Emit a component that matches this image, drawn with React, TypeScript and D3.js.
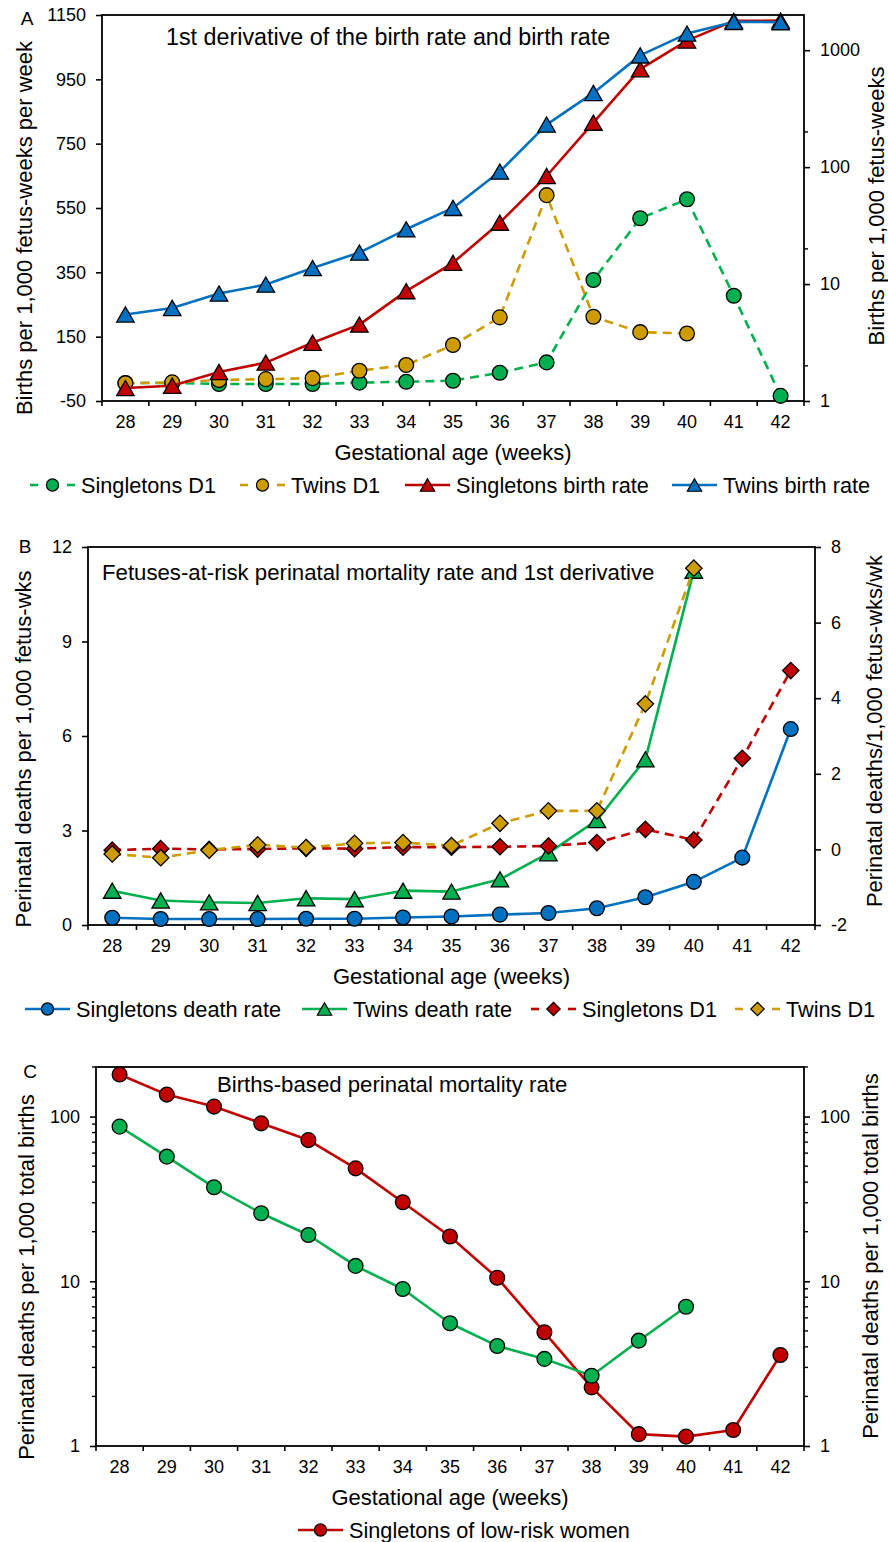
import React, { useEffect, useRef } from 'react';
import * as d3 from 'd3';

const FONT = '"Liberation Sans", Arial, Helvetica, sans-serif';

const weeks = [28, 29, 30, 31, 32, 33, 34, 35, 36, 37, 38, 39, 40, 41, 42];

// Panel A: 1st derivative (left axis) and birth rate (right, log axis)
const singletonsD1A = [6, 6, 3, 3, 3, 7, 10, 13, 38, 70, 326, 518, 577, 277, -34];
const twinsD1A = [5, 8, 15, 18, 21, 44, 62, 124, 210, 590, 212, 164, 160];
const singletonsBirthRate = [1.29, 1.35, 1.77, 2.13, 3.15, 4.5, 8.7, 15.2, 33.5, 84, 240, 688, 1208, 1782, 1792];
const twinsBirthRate = [5.5, 6.25, 8.3, 9.9, 13.7, 18.6, 29.4, 44.8, 91.6, 231, 431, 903, 1387, 1746, 1737];

// Panel B: fetuses-at-risk death rate (left) and 1st derivative (right)
const singletonsDeathRate = [0.23, 0.19, 0.19, 0.19, 0.2, 0.2, 0.24, 0.27, 0.33, 0.38, 0.53, 0.88, 1.37, 2.14, 6.22];
const twinsDeathRate = [1.09, 0.78, 0.72, 0.7, 0.85, 0.82, 1.09, 1.06, 1.45, 2.28, 3.33, 5.26, 11.25];
const singletonsD1B = [-0.02, 0.02, 0.0, 0.01, 0.03, 0.02, 0.06, 0.06, 0.07, 0.09, 0.18, 0.53, 0.25, 2.41, 4.73];
const twinsD1B = [-0.12, -0.22, -0.02, 0.12, 0.05, 0.16, 0.18, 0.1, 0.69, 1.02, 1.02, 3.85, 7.44];

// Panel C: births-based perinatal mortality (log)
const singletonsLowRisk = [180, 136, 115, 91, 72, 48.5, 30.2, 18.7, 10.5, 4.9, 2.27, 1.18, 1.14, 1.25, 3.57];
const twinsBirthsBased = [86.9, 57.1, 37.2, 25.9, 19.1, 12.4, 8.98, 5.56, 4.05, 3.38, 2.67, 4.36, 7.01];

const leftTicksA = [-50, 150, 350, 550, 750, 950, 1150];
const rightTicksA = [1, 10, 100, 1000];
const rightMinorA = [2, 20, 200];
const leftTicksB = [0, 3, 6, 9, 12];
const rightTicksB = [-2, 0, 2, 4, 6, 8];
const ticksC = [1, 10, 100];
const minorC = [2, 3, 4, 5, 6, 7, 8, 9, 20, 30, 40, 50, 60, 70, 80, 90, 200];

const BLUE = '#0070C0';
const RED = '#C00000';
const GREEN = '#00B050';
const GOLD = '#CC9C00';

type Marker = 'circle' | 'triangle' | 'diamond';
type Series = {
  name: string;
  values: number[];
  axis: 'left' | 'right';
  color: string;
  dashed: boolean;
  marker: Marker;
  legendX?: number; // start of legend sample
};

function markerPath(kind: Marker, s: number) {
  if (kind === 'circle') {
    const p = d3.path();
    p.arc(0, 0, s, 0, Math.PI * 2);
    return p.toString();
  }
  if (kind === 'triangle') {
    const w = s * 1.15, h = s;
    return `M0,${-h} L${w},${h} L${-w},${h} Z`;
  }
  return `M0,${-s} L${s},0 L0,${s} L${-s},0 Z`;
}

function markerSize(kind: Marker) {
  if (kind === 'circle') return 7.4;
  if (kind === 'triangle') return 7.6;
  return 8.2;
}

function drawPanel(svg: any, p: any) {
  const g = svg.append('g');
  const x = d3.scaleBand<number>().domain(weeks).range([p.left, p.right]).padding(0);
  const cx = (w: number) => (x(w) as number) + x.bandwidth() / 2;
  const yL = p.yLeft;
  const yR = p.yRight;

  // plot frame
  g.append('rect')
    .attr('x', p.left).attr('y', p.top)
    .attr('width', p.right - p.left).attr('height', p.bottom - p.top)
    .attr('fill', 'none').attr('stroke', '#000').attr('stroke-width', 1.8);

  const styleAxis = (a: any) => {
    a.select('.domain').remove();
    a.selectAll('line').attr('stroke', '#000').attr('stroke-width', 1.6);
    a.selectAll('text').attr('font-size', 18).attr('font-family', FONT).attr('fill', '#000');
  };

  // left axis
  g.append('g').attr('transform', `translate(${p.left},0)`)
    .call(d3.axisLeft(yL).tickValues(p.leftTicks).tickSize(6).tickSizeOuter(0).tickPadding(10).tickFormat((d: any) => String(d)))
    .call(styleAxis);
  // right axis
  g.append('g').attr('transform', `translate(${p.right},0)`)
    .call(d3.axisRight(yR).tickValues(p.rightTicks).tickSize(6).tickSizeOuter(0).tickPadding(10).tickFormat((d: any) => String(d)))
    .call(styleAxis);

  // minor ticks on log axes
  if (p.leftMinor) {
    g.selectAll(null).data(p.leftMinor).enter().append('line')
      .attr('x1', p.left - 4).attr('x2', p.left)
      .attr('y1', (d: number) => yL(d)).attr('y2', (d: number) => yL(d))
      .attr('stroke', '#000').attr('stroke-width', 1.4);
  }
  if (p.rightMinor) {
    g.selectAll(null).data(p.rightMinor).enter().append('line')
      .attr('x1', p.right).attr('x2', p.right + 4)
      .attr('y1', (d: number) => yR(d)).attr('y2', (d: number) => yR(d))
      .attr('stroke', '#000').attr('stroke-width', 1.4);
  }

  // bottom axis: labels at band centres, ticks at band boundaries
  g.append('g').attr('transform', `translate(0,${p.bottom})`)
    .call(d3.axisBottom(x).tickSize(0).tickPadding(14.5))
    .call(styleAxis);
  const bounds = weeks.map(w => x(w) as number).concat([p.right]);
  g.selectAll(null).data(bounds).enter().append('line')
    .attr('x1', (d: number) => d).attr('x2', (d: number) => d)
    .attr('y1', p.bottom).attr('y2', p.bottom + 5)
    .attr('stroke', '#000').attr('stroke-width', 1.6);

  // series
  p.series.forEach((s: Series) => {
    const y = s.axis === 'left' ? yL : yR;
    const pts: [number, number][] = s.values.map((v, i) => [cx(weeks[i]), y(v)]);
    g.append('path')
      .attr('d', d3.line()(pts))
      .attr('fill', 'none')
      .attr('stroke', s.color)
      .attr('stroke-width', 2.6)
      .attr('stroke-linejoin', 'round')
      .attr('stroke-dasharray', s.dashed ? '9,6' : null);
    g.selectAll(null).data(pts).enter().append('path')
      .attr('d', markerPath(s.marker, markerSize(s.marker)))
      .attr('transform', (d: [number, number]) => `translate(${d[0]},${d[1]})`)
      .attr('fill', s.color)
      .attr('stroke', '#000')
      .attr('stroke-width', 1.3);
  });

  // panel letter and title
  g.append('text').attr('x', p.letterX).attr('y', p.top + p.letterDy)
    .attr('font-size', 19).attr('font-family', FONT).attr('text-anchor', 'middle').text(p.letter);
  g.append('text').attr('x', p.titleX).attr('y', p.titleY)
    .attr('font-size', p.titleSize).attr('font-family', FONT).text(p.title);

  // axis titles
  g.append('text')
    .attr('transform', `translate(${p.leftTitleX},${p.leftTitleY}) rotate(-90)`)
    .attr('text-anchor', 'middle').attr('dy', '0.35em')
    .attr('font-size', 22).attr('font-family', FONT).text(p.leftTitle);
  g.append('text')
    .attr('transform', `translate(${p.rightTitleX},${p.rightTitleY}) rotate(-90)`)
    .attr('text-anchor', 'middle').attr('dy', '0.35em')
    .attr('font-size', 22).attr('font-family', FONT).text(p.rightTitle);
  g.append('text')
    .attr('x', (p.left + p.right) / 2).attr('y', p.bottom + 59)
    .attr('text-anchor', 'middle')
    .attr('font-size', 22).attr('font-family', FONT).text('Gestational age (weeks)');

  // legend
  const ly = p.bottom + 84;
  p.series.filter((s: Series) => s.legendX !== undefined).forEach((s: Series) => {
    const x0 = s.legendX as number;
    const x1 = x0 + 45;
    const lg = g.append('g');
    if (s.dashed) {
      [[x0, x0 + 8], [x1 - 8, x1]].forEach(seg => {
        lg.append('line').attr('x1', seg[0]).attr('x2', seg[1]).attr('y1', ly).attr('y2', ly)
          .attr('stroke', s.color).attr('stroke-width', 2.6);
      });
    } else {
      lg.append('line').attr('x1', x0).attr('x2', x1).attr('y1', ly).attr('y2', ly)
        .attr('stroke', s.color).attr('stroke-width', 2.6);
    }
    lg.append('path')
      .attr('d', markerPath(s.marker, markerSize(s.marker) * 0.82))
      .attr('transform', `translate(${(x0 + x1) / 2},${ly})`)
      .attr('fill', s.color).attr('stroke', '#000').attr('stroke-width', 1.2);
    lg.append('text').attr('x', x1 + 6).attr('y', ly).attr('dy', '0.35em')
      .attr('font-size', 21.7).attr('font-family', FONT).text(s.name);
  });
}

const panels = [
  {
    letter: 'A', letterX: 27, letterDy: 10,
    title: '1st derivative of the birth rate and birth rate', titleX: 166, titleY: 45, titleSize: 23.3,
    left: 102, right: 804, top: 15, bottom: 401,
    yLeft: d3.scaleLinear().domain([-50, 1150]).range([401, 15]),
    yRight: d3.scaleLog().domain([1, 2000]).range([401, 15]),
    leftTicks: leftTicksA, rightTicks: rightTicksA, rightMinor: rightMinorA,
    leftTitle: 'Births per 1,000 fetus-weeks per week', leftTitleX: 24, leftTitleY: 228,
    rightTitle: 'Births per 1,000 fetus-weeks', rightTitleX: 876, rightTitleY: 206,
    series: [
      { name: 'Singletons D1', values: singletonsD1A, axis: 'left', color: GREEN, dashed: true, marker: 'circle', legendX: 30 },
      { name: 'Twins D1', values: twinsD1A, axis: 'left', color: GOLD, dashed: true, marker: 'circle', legendX: 240 },
      { name: 'Singletons birth rate', values: singletonsBirthRate, axis: 'right', color: RED, dashed: false, marker: 'triangle', legendX: 405 },
      { name: 'Twins birth rate', values: twinsBirthRate, axis: 'right', color: BLUE, dashed: false, marker: 'triangle', legendX: 672 },
    ],
  },
  {
    letter: 'B', letterX: 25, letterDy: 6,
    title: 'Fetuses-at-risk perinatal mortality rate and 1st derivative', titleX: 102, titleY: 580, titleSize: 22.2,
    left: 88, right: 815, top: 547, bottom: 925,
    yLeft: d3.scaleLinear().domain([0, 12]).range([925, 547]),
    yRight: d3.scaleLinear().domain([-2, 8]).range([925, 547]),
    leftTicks: leftTicksB, rightTicks: rightTicksB,
    leftTitle: 'Perinatal deaths per 1,000 fetus-wks', leftTitleX: 23, leftTitleY: 749,
    rightTitle: 'Perinatal deaths/1,000 fetus-wks/wk', rightTitleX: 874, rightTitleY: 731,
    series: [
      { name: 'Singletons death rate', values: singletonsDeathRate, axis: 'left', color: BLUE, dashed: false, marker: 'circle', legendX: 25 },
      { name: 'Twins death rate', values: twinsDeathRate, axis: 'left', color: GREEN, dashed: false, marker: 'triangle', legendX: 302 },
      { name: 'Singletons D1', values: singletonsD1B, axis: 'right', color: RED, dashed: true, marker: 'diamond', legendX: 531 },
      { name: 'Twins D1', values: twinsD1B, axis: 'right', color: GOLD, dashed: true, marker: 'diamond', legendX: 735 },
    ],
  },
  {
    letter: 'C', letterX: 30, letterDy: 11,
    title: 'Births-based perinatal mortality rate', titleX: 217, titleY: 1092, titleSize: 22.2,
    left: 96, right: 804, top: 1067, bottom: 1446,
    yLeft: d3.scaleLog().domain([1, 200]).range([1446, 1067]),
    yRight: d3.scaleLog().domain([1, 200]).range([1446, 1067]),
    leftTicks: ticksC, rightTicks: ticksC, leftMinor: minorC, rightMinor: minorC,
    leftTitle: 'Perinatal deaths per 1,000 total births', leftTitleX: 26, leftTitleY: 1277,
    rightTitle: 'Perinatal deaths per 1,000 total births', rightTitleX: 870, rightTitleY: 1256,
    series: [
      { name: 'Singletons of low-risk women', values: singletonsLowRisk, axis: 'left', color: RED, dashed: false, marker: 'circle', legendX: 298 },
      { name: 'Twins', values: twinsBirthsBased, axis: 'left', color: GREEN, dashed: false, marker: 'circle' },
    ],
  },
];

export default function App() {
  const ref = useRef<SVGSVGElement>(null);

  useEffect(() => {
    const svg = d3.select(ref.current);
    svg.selectAll('*').remove();
    panels.forEach(p => drawPanel(svg, p));
  }, []);

  return (
    <svg
      ref={ref}
      width={888}
      height={1542}
      style={{ position: 'absolute', left: 0, top: 0, background: '#fff' }}
    />
  );
}
